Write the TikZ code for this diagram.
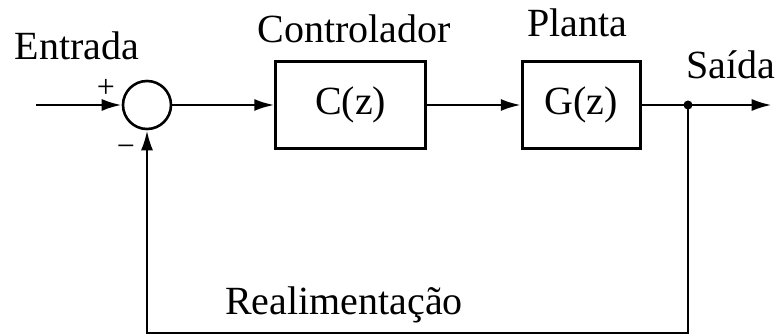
\documentclass[tikz,border=0pt]{standalone}
\usepackage{fontspec}
\setmainfont{Liberation Serif}
\usetikzlibrary{arrows.meta}
\usetikzlibrary{positioning}
\tikzset{
  block/.style={draw, line width=2.6pt, minimum height=87pt, inner sep=0},
  sumnode/.style={draw, circle, line width=2.6pt, minimum size=48pt, inner sep=0},
  txt/.style={font=\fontsize{40}{48}\selectfont, anchor=base, inner sep=0},
  sign/.style={font=\fontsize{32}{36}\selectfont, inner sep=0},
  arrow/.style={->,>={Latex[length=20pt,width=12pt]}, line width=2.6pt},
  line/.style={line width=2.6pt}
}

\begin{document}
\begin{tikzpicture}[x=1pt, y=-1pt]
  \useasboundingbox (0,0) rectangle (779,336);
  % blocks
  \node[sumnode] (sum) at (147,105) {};
  \node[txt, block, minimum width=150pt, right=102pt of sum] (ctrl) {C(z)};
  \node[txt, block, minimum width=118pt, right=94pt of ctrl] (plant) {G(z)};
  \node[circle, fill, inner sep=0, minimum size=9pt] (branch) at (688,105) {};
  \coordinate (in) at (36,105);
  \coordinate[right=79pt of branch] (out);
  \coordinate (fb) at (688,333);
  % connectors
  \draw[arrow] (in) -- (sum);
  \draw[arrow] (sum) -- (ctrl);
  \draw[arrow] (ctrl) -- (plant);
  \draw[line] (plant) -- (branch.center);
  \draw[arrow] (branch.center) -- (out);
  \draw[arrow] (branch.center) -- (fb) -| (sum.south);
  % labels
  \node[txt] (entrada) at (77,60) {Entrada};
  \node[txt] (controlador) at (354,43) {Controlador};
  \node[txt] (planta) at (577,37) {Planta};
  \node[txt] (saida) at (731,79) {Saída};
  \node[txt] (realim) at (344,315) {Realimentação};
  \node[sign] (plus) at (106,88) {+};
  \node[sign] (minus) at (126,151) {−};
\end{tikzpicture}
\end{document}
